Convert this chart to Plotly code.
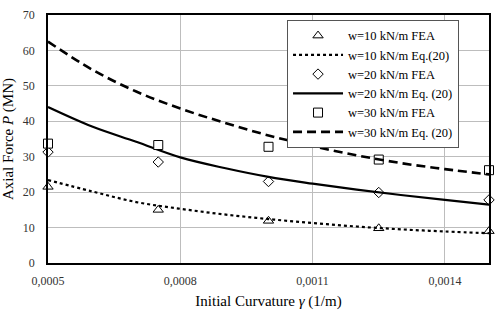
import plotly.graph_objects as go

# FEA results
x_fea = [0.0005, 0.00075, 0.001, 0.00125, 0.0015]
fea_w10 = [21.5, 15.0, 11.9, 9.8, 9.0]
fea_w20 = [31.3, 28.5, 23.0, 19.9, 17.8]
fea_w30 = [33.7, 33.3, 32.8, 29.2, 26.2]

# Eq. (20) curves
x_eq = [0.0005, 0.0006, 0.0007, 0.0008, 0.0009, 0.001, 0.0011, 0.0012, 0.0013, 0.0014, 0.0015]
eq_w10 = [23.4, 20.2, 17.2, 15.3, 13.7, 12.4, 11.3, 10.3, 9.5, 8.9, 8.4]
eq_w20 = [44.0, 38.5, 34.2, 29.8, 26.8, 24.3, 22.4, 20.7, 19.2, 17.8, 16.5]
eq_w30 = [62.5, 54.6, 48.4, 43.6, 39.6, 36.0, 33.0, 30.4, 28.2, 26.5, 25.0]

x_tickvals = [0.0005, 0.0008, 0.0011, 0.0014]
x_ticktext = ["0,0005", "0,0008", "0,0011", "0,0014"]
y_tickvals = [0, 10, 20, 30, 40, 50, 60, 70]

FONT = "'Liberation Serif', 'Times New Roman', serif"

fig = go.Figure()

def fea(y, sym, name, size):
    fig.add_trace(go.Scatter(x=x_fea, y=y, mode="markers", name=name,
                             marker=dict(symbol=sym, size=size, color="white",
                                         line=dict(color="black", width=1)),
                             cliponaxis=False))

def eq(y, dash, width, name):
    fig.add_trace(go.Scatter(x=x_eq, y=y, mode="lines", name=name,
                             line=dict(color="black", dash=dash, width=width, shape="spline")))

fea(fea_w10, "triangle-up", "w=10 kN/m FEA", 9)
eq(eq_w10, "dot", 2.2, "w=10 kN/m Eq.(20)")
fea(fea_w20, "diamond", "w=20 kN/m FEA", 8)
eq(eq_w20, "solid", 2.2, "w=20 kN/m Eq. (20)")
fea(fea_w30, "square", "w=30 kN/m FEA", 9)
eq(eq_w30, "9px,5px", 2.6, "w=30 kN/m Eq. (20)")

fig.update_layout(
    width=497, height=313,
    margin=dict(l=48, r=6, t=15, b=49),
    paper_bgcolor="white", plot_bgcolor="white",
    font=dict(family=FONT, color="black", size=12),
    showlegend=True,
    legend=dict(x=0.542, y=0.98, xanchor="left", yanchor="top",
                bgcolor="white", bordercolor="#555", borderwidth=1,
                font=dict(family=FONT, size=12.5, color="black"),
                tracegroupgap=0, itemwidth=50),
    xaxis=dict(range=[0.0005, 0.0015], tickvals=x_tickvals, ticktext=x_ticktext,
               showgrid=True, gridcolor="#bdbdbd", gridwidth=1,
               showline=True, linecolor="black", linewidth=1.5, mirror=True,
               ticks="", zeroline=False, ticklabelstandoff=6,
               tickfont=dict(family=FONT, size=12, color="#333"),
               title=dict(text="Initial Curvature <i>γ</i> (1/m)",
                          font=dict(family=FONT, size=15), standoff=8)),
    yaxis=dict(range=[0, 70], tickvals=y_tickvals,
               showgrid=True, gridcolor="#bdbdbd", gridwidth=1,
               showline=True, linecolor="black", linewidth=1.5, mirror=True,
               ticks="", zeroline=False, ticklabelstandoff=9,
               tickfont=dict(family=FONT, size=12, color="#333"),
               title=dict(text="Axial Force <i>P</i> (MN)",
                          font=dict(family=FONT, size=15), standoff=6)),
)

fig.write_html("out.html", config={"displayModeBar": False},
               post_script="document.body.style.margin='0';document.body.style.overflow='hidden';")
